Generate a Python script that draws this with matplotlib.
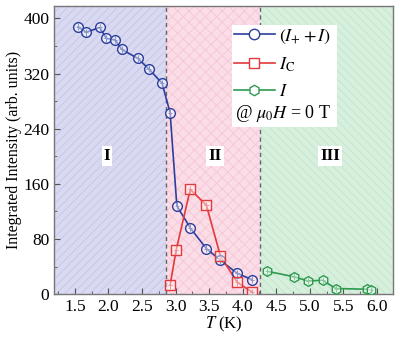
import numpy as np
import matplotlib.pyplot as plt
from matplotlib.patches import Rectangle
from matplotlib.ticker import MultipleLocator

plt.rcParams['font.family'] = ['Liberation Serif', 'DejaVu Serif']
plt.rcParams['mathtext.fontset'] = 'stix'
plt.rcParams['hatch.linewidth'] = 0.6

# -----------------------------
# Data
# -----------------------------
t_sum = [1.55, 1.67, 1.87, 1.97, 2.10, 2.20, 2.44, 2.60, 2.80, 2.92,
         3.02, 3.22, 3.46, 3.67, 3.92, 4.14]
i_sum = [388, 380, 387, 371, 369, 355, 342, 327, 306, 263,
         128, 96, 66, 49, 30, 21]

t_c = [2.92, 3.01, 3.22, 3.46, 3.67, 3.92, 4.14]
i_c = [13, 64, 152, 129, 55, 17, 3]

t_minus = [4.37, 4.77, 4.97, 5.19, 5.39, 5.85, 5.91]
i_minus = [33, 25, 19, 20, 8, 7, 6]

t_bounds = [2.86, 4.26]
phase_names = ['I', 'II', 'III']
phase_x = [1.98, 3.59, 5.30]

blue = '#2b3f9e'
red = '#e23a3a'
green = '#2e9a4e'

# -----------------------------
# Figure
# -----------------------------
fig = plt.figure(figsize=(4.0, 3.38), dpi=100)
ax = fig.add_axes([0.135, 0.130, 0.8475, 0.852])

xmin, xmax = 1.19, 6.24
ymin, ymax = 0, 418

# shaded phase regions
edges = [xmin] + t_bounds + [xmax]
fills = ['#d9d9f1', '#fbdde7', '#d7efdd']
hatch_cols = ['#c6c6e6', '#f5c6d5', '#c3e5cc']
hatches = ['////', 'xxx', '\\\\\\\\']
for i in range(3):
    ax.axvspan(edges[i], edges[i + 1], facecolor=fills[i], edgecolor=hatch_cols[i],
               hatch=hatches[i], linewidth=0, zorder=0)
for tb in t_bounds:
    ax.axvline(tb, color='#666666', linestyle=(0, (3, 2.5)), linewidth=1.0, zorder=1)

for name, px in zip(phase_names, phase_x):
    ax.text(px, 200, name, ha='center', va='center', fontsize=12.5, fontweight='bold',
            bbox=dict(facecolor='white', edgecolor='none', pad=1.5), zorder=2)

def series(t, v, color, marker, label):
    ax.plot(t, v, color=color, linewidth=1.2, zorder=3)
    ax.errorbar(t, v, yerr=5, xerr=0.033, fmt='none', ecolor=color,
                elinewidth=0.7, capsize=0, zorder=4)
    ax.plot(t, v, linestyle='none', marker=marker, markersize=7,
            markerfacecolor=(1, 1, 1, 0.45), markeredgecolor=color,
            markeredgewidth=1.0, zorder=5)
    # legend proxy
    return ax.plot([], [], color=color, linewidth=1.2, marker=marker, markersize=7.5,
                   markerfacecolor='white', markeredgecolor=color, label=label)[0]

h1 = series(t_sum, i_sum, blue, 'o', r'$(I_{+}+I)$')
h2 = series(t_c, i_c, red, 's', r'$I_{\mathrm{C}}$')
h3 = series(t_minus, i_minus, green, 'h', r'$I$')

# white box holding legend and field note
ax.add_patch(Rectangle((0.525, 0.58), 0.31, 0.355, transform=ax.transAxes,
                       facecolor='white', edgecolor='none', zorder=6))
leg = ax.legend(handles=[h1, h2, h3], loc='upper left', bbox_to_anchor=(0.53, 0.925),
                fontsize=13, frameon=False, handlelength=2.3, handletextpad=0.2,
                labelspacing=0.52, borderpad=0, borderaxespad=0)
leg.set_zorder(7)
ax.text(0.534, 0.628, r'@ $\mu_0H$ = 0 T', transform=ax.transAxes, fontsize=13,
        ha='left', va='center', zorder=7)

ax.set_xlim(xmin, xmax)
ax.set_ylim(ymin, ymax)
ax.set_xticks([1.5, 2.0, 2.5, 3.0, 3.5, 4.0, 4.5, 5.0, 5.5, 6.0])
ax.set_yticks([0, 80, 160, 240, 320, 400])
ax.xaxis.set_minor_locator(MultipleLocator(0.25))
ax.yaxis.set_minor_locator(MultipleLocator(40))
ax.tick_params(which='both', direction='in', top=False, right=False, labelsize=12.5,
               color='#555555')
ax.tick_params(which='major', length=4)
ax.tick_params(which='minor', length=2)
for s in ax.spines.values():
    s.set_color('#777777')
    s.set_linewidth(1.0)

ax.set_xlabel(r'$T$ (K)', fontsize=12, labelpad=0)
ax.set_ylabel('Integrated Intensity (arb. units)', fontsize=11.5, labelpad=1)

fig.savefig('out.png', dpi=100)
